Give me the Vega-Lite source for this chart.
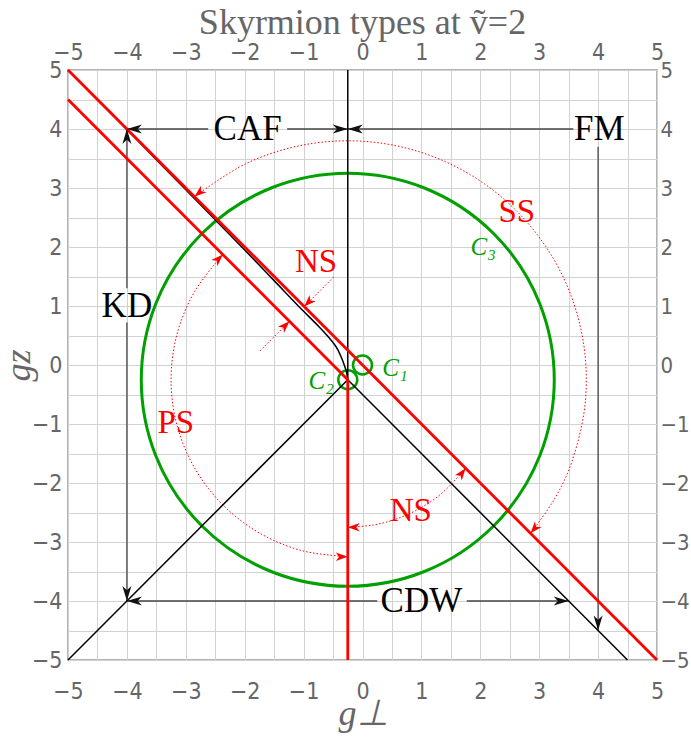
{
  "$schema": "https://vega.github.io/schema/vega-lite/v6.json",
  "width": 589,
  "height": 590,
  "autosize": {"type": "none"},
  "padding": {"left": 68, "top": 70, "right": 34, "bottom": 78},
  "title": {
    "text": "Skyrmion types at ṽ=2",
    "font": "Liberation Serif",
    "fontSize": 36,
    "fontWeight": "normal",
    "color": "#666666",
    "anchor": "middle",
    "offset": -1
  },
  "config": {
    "view": {"stroke": "#9a9a9a", "strokeWidth": 1.5},
    "axis": {"gridColor": "#d2d2d2", "gridWidth": 1}
  },
  "datasets": {
    "segs": [
      {"x": -0.25, "y": 5, "x2": -0.25, "y2": -0.25, "kind": "black"},
      {"x": -0.25, "y": -0.25, "x2": 4.5, "y2": -5, "kind": "black"},
      {"x": -0.25, "y": -0.25, "x2": -5, "y2": -5, "kind": "black"},
      {"x": -5, "y": 5, "x2": 5, "y2": -5, "kind": "red"},
      {"x": -5, "y": 4.5, "x2": -0.25, "y2": -0.25, "kind": "red"},
      {"x": -0.25, "y": -0.25, "x2": -0.25, "y2": -5, "kind": "red"},
      {"x": -4, "y": 4, "x2": -2.62, "y2": 4, "kind": "arrow"},
      {"x": -1.28, "y": 4, "x2": -0.25, "y2": 4, "kind": "arrow"},
      {"x": -0.25, "y": 4, "x2": 3.58, "y2": 4, "kind": "arrow"},
      {"x": 4, "y": 3.7, "x2": 4, "y2": -4.5, "kind": "arrow"},
      {"x": -4, "y": 4, "x2": -4, "y2": 1.3, "kind": "arrow"},
      {"x": -4, "y": 0.72, "x2": -4, "y2": -4, "kind": "arrow"},
      {"x": -4, "y": -4, "x2": 0.25, "y2": -4, "kind": "arrow"},
      {"x": 1.77, "y": -4, "x2": 3.5, "y2": -4, "kind": "arrow"},
      {"x": -1.74, "y": 0.24, "x2": -1.24, "y2": 0.74, "kind": "reddot"},
      {"x": -0.49, "y": 1.49, "x2": -0.99, "y2": 0.99, "kind": "reddot"}
    ],
    "curves": [
      {"id": "bc", "ord": 1, "x": -5, "y": 5},
      {"id": "bc", "ord": 2, "x": -4, "y": 3.99},
      {"id": "bc", "ord": 3, "x": -3, "y": 2.97},
      {"id": "bc", "ord": 4, "x": -2, "y": 1.95},
      {"id": "bc", "ord": 5, "x": -1.5, "y": 1.43},
      {"id": "bc", "ord": 6, "x": -1, "y": 0.91},
      {"id": "bc", "ord": 7, "x": -0.75, "y": 0.66},
      {"id": "bc", "ord": 8, "x": -0.6, "y": 0.5},
      {"id": "bc", "ord": 9, "x": -0.5, "y": 0.38},
      {"id": "bc", "ord": 10, "x": -0.42, "y": 0.26},
      {"id": "bc", "ord": 11, "x": -0.36, "y": 0.13},
      {"id": "bc", "ord": 12, "x": -0.31, "y": 0.0},
      {"id": "bc", "ord": 13, "x": -0.27, "y": -0.13},
      {"id": "bc", "ord": 14, "x": -0.25, "y": -0.25},
      {"id": "ss", "ord": 1, "x": -2.853, "y": 2.852},
      {"id": "ss", "ord": 2, "x": -1.962, "y": 3.421},
      {"id": "ss", "ord": 3, "x": -0.953, "y": 3.739},
      {"id": "ss", "ord": 4, "x": 0.103, "y": 3.785},
      {"id": "ss", "ord": 5, "x": 1.135, "y": 3.556},
      {"id": "ss", "ord": 6, "x": 2.073, "y": 3.068},
      {"id": "ss", "ord": 7, "x": 2.852, "y": 2.353},
      {"id": "ss", "ord": 8, "x": 3.421, "y": 1.462},
      {"id": "ss", "ord": 9, "x": 3.739, "y": 0.453},
      {"id": "ss", "ord": 10, "x": 3.785, "y": -0.603},
      {"id": "ss", "ord": 11, "x": 3.556, "y": -1.635},
      {"id": "ss", "ord": 12, "x": 3.257, "y": -2.275},
      {"id": "ss", "ord": 13, "x": 2.852, "y": -2.853},
      {"id": "ps", "ord": 1, "x": -2.371, "y": 1.871},
      {"id": "ps", "ord": 2, "x": -2.848, "y": 1.25},
      {"id": "ps", "ord": 3, "x": -3.148, "y": 0.526},
      {"id": "ps", "ord": 4, "x": -3.25, "y": -0.25},
      {"id": "ps", "ord": 5, "x": -3.148, "y": -1.026},
      {"id": "ps", "ord": 6, "x": -2.848, "y": -1.75},
      {"id": "ps", "ord": 7, "x": -2.371, "y": -2.371},
      {"id": "ps", "ord": 8, "x": -1.75, "y": -2.848},
      {"id": "ps", "ord": 9, "x": -1.026, "y": -3.148},
      {"id": "ps", "ord": 10, "x": -0.25, "y": -3.25},
      {"id": "ns", "ord": 1, "x": -0.25, "y": -2.75},
      {"id": "ns", "ord": 2, "x": 0.184, "y": -2.712},
      {"id": "ns", "ord": 3, "x": 0.605, "y": -2.599},
      {"id": "ns", "ord": 4, "x": 1.0, "y": -2.415},
      {"id": "ns", "ord": 5, "x": 1.357, "y": -2.165},
      {"id": "ns", "ord": 6, "x": 1.75, "y": -1.75}
    ],
    "heads": [
      {"x": -4, "y": 4, "dir": 270, "kind": "black"},
      {"x": -0.25, "y": 4, "dir": 90, "kind": "black"},
      {"x": -0.25, "y": 4, "dir": 270, "kind": "black"},
      {"x": 4, "y": -4.5, "dir": 180, "kind": "black"},
      {"x": -4, "y": 4, "dir": 0, "kind": "black"},
      {"x": -4, "y": -4, "dir": 180, "kind": "black"},
      {"x": -4, "y": -4, "dir": 270, "kind": "black"},
      {"x": 3.5, "y": -4, "dir": 90, "kind": "black"},
      {"x": -2.853, "y": 2.853, "dir": 230, "kind": "red"},
      {"x": 2.853, "y": -2.853, "dir": 220, "kind": "red"},
      {"x": -2.371, "y": 1.871, "dir": 45, "kind": "red"},
      {"x": -0.25, "y": -3.25, "dir": 90, "kind": "red"},
      {"x": -0.25, "y": -2.75, "dir": 270, "kind": "red"},
      {"x": 1.75, "y": -1.75, "dir": 37, "kind": "red"},
      {"x": -1.24, "y": 0.74, "dir": 45, "kind": "red"},
      {"x": -0.99, "y": 0.99, "dir": 225, "kind": "red"}
    ],
    "circles": [
      {"x": -0.25, "y": -0.25, "name": "C3"},
      {"x": 0, "y": 0, "name": "C1"},
      {"x": -0.25, "y": -0.25, "name": "C2"}
    ],
    "labels": [
      {"x": -1.95, "y": 4, "text": "CAF", "kind": "black"},
      {"x": 4.02, "y": 4, "text": "FM", "kind": "black"},
      {"x": -4, "y": 1, "text": "KD", "kind": "black"},
      {"x": 1.0, "y": -4, "text": "CDW", "kind": "black"},
      {"x": 2.62, "y": 2.6, "text": "SS", "kind": "red"},
      {"x": -0.79, "y": 1.75, "text": "NS", "kind": "red"},
      {"x": -3.17, "y": -0.99, "text": "PS", "kind": "red"},
      {"x": 0.82, "y": -2.48, "text": "NS", "kind": "red"},
      {"x": 2.05, "y": 2.0, "text": "C₃", "kind": "green"},
      {"x": 0.55, "y": -0.05, "text": "C₁", "kind": "green"},
      {"x": -0.7, "y": -0.27, "text": "C₂", "kind": "green"}
    ]
  },
  "resolve": {
    "scale": {"x": "shared", "y": "shared"},
    "axis": {"x": "independent", "y": "independent"}
  },
  "layer": [
    {
      "data": {"name": "circles"},
      "transform": [{"filter": "datum.name === 'C3'"}],
      "mark": {"type": "point", "shape": "circle", "filled": false, "size": 170569, "strokeWidth": 3, "color": "#00a000", "opacity": 1},
      "encoding": {
        "x": {
          "field": "x", "type": "quantitative",
          "scale": {"domain": [-5, 5], "nice": false, "zero": false},
          "axis": {
            "orient": "bottom",
            "values": [-5, -4.5, -4, -3.5, -3, -2.5, -2, -1.5, -1, -0.5, 0, 0.5, 1, 1.5, 2, 2.5, 3, 3.5, 4, 4.5, 5],
            "labelExpr": "datum.value % 1 === 0 ? format(datum.value, 'd') : ''",
            "grid": true, "ticks": false, "domain": false,
            "labelFont": "DejaVu Sans Condensed, sans-serif",
            "labelFontSize": 23, "labelColor": "#666666", "labelPadding": 20,
            "labelFlush": false, "labelOverlap": false, "labelBound": false,
            "title": "g⊥", "titleFont": "Liberation Serif", "titleFontStyle": "italic",
            "titleFontWeight": "normal", "titleFontSize": 36, "titleColor": "#666666", "titlePadding": -7
          }
        },
        "y": {
          "field": "y", "type": "quantitative",
          "scale": {"domain": [-5, 5], "nice": false, "zero": false},
          "axis": {
            "orient": "left",
            "values": [-5, -4.5, -4, -3.5, -3, -2.5, -2, -1.5, -1, -0.5, 0, 0.5, 1, 1.5, 2, 2.5, 3, 3.5, 4, 4.5, 5],
            "labelExpr": "datum.value % 1 === 0 ? format(datum.value, 'd') : ''",
            "grid": true, "ticks": false, "domain": false,
            "labelFont": "DejaVu Sans Condensed, sans-serif",
            "labelFontSize": 23, "labelColor": "#666666", "labelPadding": 6,
            "labelFlush": false, "labelOverlap": false, "labelBound": false,
            "title": "gz", "titleFont": "Liberation Serif", "titleFontStyle": "italic",
            "titleFontWeight": "normal", "titleFontSize": 36, "titleColor": "#666666", "titlePadding": -6
          }
        }
      }
    },
    {
      "data": {"name": "circles"},
      "transform": [{"filter": "datum.name !== 'C3'"}],
      "mark": {"type": "point", "shape": "circle", "filled": false, "size": 361, "strokeWidth": 2.5, "color": "#00a000", "opacity": 1},
      "encoding": {
        "x": {
          "field": "x", "type": "quantitative",
          "scale": {"domain": [-5, 5], "nice": false, "zero": false},
          "axis": {
            "orient": "top",
            "values": [-5, -4, -3, -2, -1, 0, 1, 2, 3, 4, 5],
            "grid": false, "ticks": false, "domain": false,
            "labelFont": "DejaVu Sans Condensed, sans-serif",
            "labelFontSize": 23, "labelColor": "#666666", "labelPadding": 6,
            "labelFlush": false, "labelOverlap": false, "labelBound": false,
            "title": null
          }
        },
        "y": {
          "field": "y", "type": "quantitative",
          "scale": {"domain": [-5, 5], "nice": false, "zero": false},
          "axis": {
            "orient": "right",
            "values": [-5, -4, -3, -2, -1, 0, 1, 2, 3, 4, 5],
            "grid": false, "ticks": false, "domain": false,
            "labelFont": "DejaVu Sans Condensed, sans-serif",
            "labelFontSize": 22, "labelColor": "#666666", "labelPadding": 3,
            "labelFlush": false, "labelOverlap": false, "labelBound": false,
            "title": null
          }
        }
      }
    },
    {
      "data": {"name": "segs"},
      "transform": [{"filter": "datum.kind === 'arrow'"}],
      "mark": {"type": "rule", "color": "#444444", "strokeWidth": 1.3},
      "encoding": {
        "x": {"field": "x", "type": "quantitative", "axis": null},
        "y": {"field": "y", "type": "quantitative", "axis": null},
        "x2": {"field": "x2"},
        "y2": {"field": "y2"}
      }
    },
    {
      "data": {"name": "segs"},
      "transform": [{"filter": "datum.kind === 'reddot'"}],
      "mark": {"type": "rule", "color": "#ff0000", "strokeWidth": 1, "strokeDash": [1.5, 2]},
      "encoding": {
        "x": {"field": "x", "type": "quantitative", "axis": null},
        "y": {"field": "y", "type": "quantitative", "axis": null},
        "x2": {"field": "x2"},
        "y2": {"field": "y2"}
      }
    },
    {
      "data": {"name": "curves"},
      "transform": [{"filter": "datum.id !== 'bc'"}],
      "mark": {"type": "line", "color": "#ff0000", "strokeWidth": 1, "strokeDash": [1.5, 2], "interpolate": "catmull-rom"},
      "encoding": {
        "x": {"field": "x", "type": "quantitative", "axis": null},
        "y": {"field": "y", "type": "quantitative", "axis": null},
        "detail": {"field": "id"},
        "order": {"field": "ord"}
      }
    },
    {
      "data": {"name": "segs"},
      "transform": [{"filter": "datum.kind === 'black'"}],
      "mark": {"type": "rule", "color": "#000000", "strokeWidth": 1.5},
      "encoding": {
        "x": {"field": "x", "type": "quantitative", "axis": null},
        "y": {"field": "y", "type": "quantitative", "axis": null},
        "x2": {"field": "x2"},
        "y2": {"field": "y2"}
      }
    },
    {
      "data": {"name": "curves"},
      "transform": [{"filter": "datum.id === 'bc'"}],
      "mark": {"type": "line", "color": "#000000", "strokeWidth": 1.5, "interpolate": "monotone"},
      "encoding": {
        "x": {"field": "x", "type": "quantitative", "axis": null},
        "y": {"field": "y", "type": "quantitative", "axis": null},
        "order": {"field": "ord"}
      }
    },
    {
      "data": {"name": "segs"},
      "transform": [{"filter": "datum.kind === 'red'"}],
      "mark": {"type": "rule", "color": "#ff0000", "strokeWidth": 2.8},
      "encoding": {
        "x": {"field": "x", "type": "quantitative", "axis": null},
        "y": {"field": "y", "type": "quantitative", "axis": null},
        "x2": {"field": "x2"},
        "y2": {"field": "y2"}
      }
    },
    {
      "data": {"name": "heads"},
      "transform": [{"filter": "datum.kind === 'black'"}],
      "mark": {"type": "point", "shape": "M0,0L0.3,1L0,0.72L-0.3,1Z", "filled": true, "size": 900, "color": "#111111", "opacity": 1, "strokeWidth": 0},
      "encoding": {
        "x": {"field": "x", "type": "quantitative", "axis": null},
        "y": {"field": "y", "type": "quantitative", "axis": null},
        "angle": {"field": "dir", "type": "quantitative", "scale": {"domain": [0, 360], "range": [0, 360]}}
      }
    },
    {
      "data": {"name": "heads"},
      "transform": [{"filter": "datum.kind === 'red'"}],
      "mark": {"type": "point", "shape": "M0,0L0.36,1L0,0.72L-0.36,1Z", "filled": true, "size": 576, "color": "#ff0000", "opacity": 1, "strokeWidth": 0},
      "encoding": {
        "x": {"field": "x", "type": "quantitative", "axis": null},
        "y": {"field": "y", "type": "quantitative", "axis": null},
        "angle": {"field": "dir", "type": "quantitative", "scale": {"domain": [0, 360], "range": [0, 360]}}
      }
    },
    {
      "data": {"name": "labels"},
      "transform": [{"filter": "datum.kind === 'black'"}],
      "mark": {"type": "text", "font": "Liberation Serif", "fontSize": 35, "color": "#000000", "align": "center", "baseline": "middle"},
      "encoding": {
        "x": {"field": "x", "type": "quantitative", "axis": null},
        "y": {"field": "y", "type": "quantitative", "axis": null},
        "text": {"field": "text"}
      }
    },
    {
      "data": {"name": "labels"},
      "transform": [{"filter": "datum.kind === 'red'"}],
      "mark": {"type": "text", "font": "Liberation Serif", "fontSize": 33, "color": "#ff0000", "align": "center", "baseline": "middle"},
      "encoding": {
        "x": {"field": "x", "type": "quantitative", "axis": null},
        "y": {"field": "y", "type": "quantitative", "axis": null},
        "text": {"field": "text"}
      }
    },
    {
      "data": {"name": "labels"},
      "transform": [{"filter": "datum.kind === 'green'"}],
      "mark": {"type": "text", "font": "Liberation Serif, DejaVu Serif", "fontSize": 25, "fontStyle": "italic", "color": "#00a000", "align": "center", "baseline": "middle"},
      "encoding": {
        "x": {"field": "x", "type": "quantitative", "axis": null},
        "y": {"field": "y", "type": "quantitative", "axis": null},
        "text": {"field": "text"}
      }
    }
  ]
}
